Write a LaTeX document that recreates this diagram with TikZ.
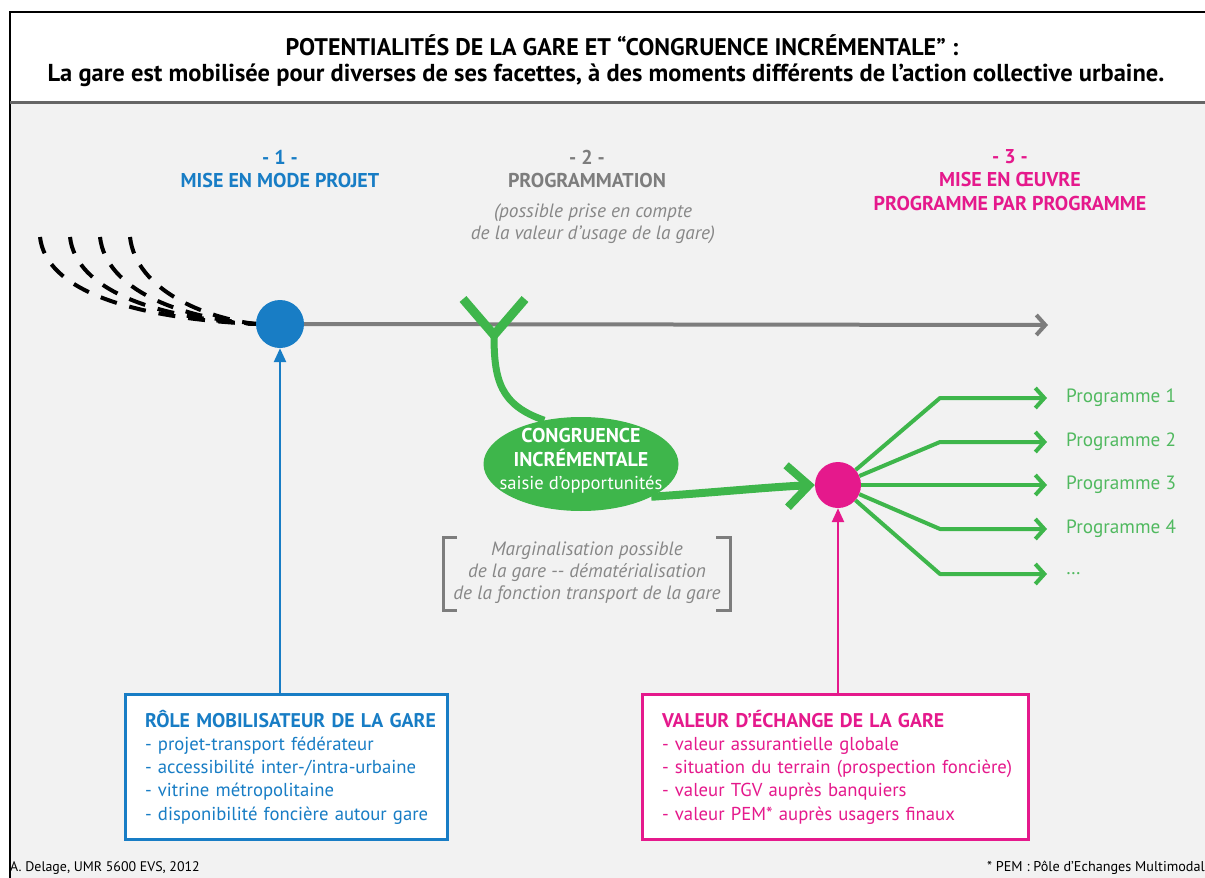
\documentclass[tikz,border=0pt]{standalone}
\usepackage{fontspec}
\setmainfont{PT Sans}
\usetikzlibrary{arrows.meta,positioning,shapes.geometric}
\definecolor{mblue}{RGB}{24,125,197}
\definecolor{mpink}{RGB}{229,25,140}
\definecolor{mgreen}{RGB}{62,182,75}
\definecolor{lgreen}{RGB}{80,185,95}
\definecolor{mgrey}{RGB}{125,125,125}
\definecolor{tgrey}{RGB}{135,135,135}
\definecolor{bg}{RGB}{242,242,242}
\newcommand{\headfont}{\fontsize{19.8}{23.3}\selectfont\bfseries}
\tikzset{>=Stealth,every node/.style={inner sep=0pt},
stagelbl/.style={font=\fontsize{20}{23.5}\selectfont\bfseries,align=center},
note/.style={font=\fontsize{19.3}{21.8}\selectfont\itshape,text=tgrey,align=center},
infobox/.style={draw=#1,line width=3pt,fill=white,text=#1,minimum height=145pt,inner xsep=20pt,align=left,font=\fontsize{18.7}{23.3}\selectfont},
up/.style={line width=2.5pt,draw=#1,-{Triangle[length=14pt 0,width=12pt 0]}},
prog/.style={mgreen,line width=4pt,line join=round,-{Straight Barb[length=9pt 0,width=20pt 0]}},
progtxt/.style={anchor=west,text=lgreen,font=\fontsize{19.2}{21}\selectfont}}
\begin{document}
\begin{tikzpicture}[x=1pt,y=-1pt]
\useasboundingbox (0,0) rectangle (1205,878);
\fill[white] (0,0) rectangle (1205,878);\fill[bg] (10,102) rectangle (1205,878);
\draw[line width=2pt] (1205,12)--(10,12)--(10,878);\draw[line width=3pt,black!60] (10,102)--(1205,102);
\node[font=\fontsize{24}{26}\selectfont\bfseries] (title1) at (622,45) {POTENTIALITÉS DE LA GARE ET “CONGRUENCE INCRÉMENTALE” :};
\node[font=\fontsize{24.5}{26}\selectfont\bfseries] (title2) at (606,75) {La gare est mobilisée pour diverses de ses facettes, à des moments différents de l’action collective urbaine.};
\node[stagelbl,text=mblue] (s1) at (280,169) {- 1 -\\MISE EN MODE PROJET};
\node[stagelbl,text=mgrey] (s2) at (587,169) {- 2 -\\PROGRAMMATION};
\node[note] (s2n) at (593,224) {(possible prise en compte\\de la valeur d’usage de la gare)};
\node[stagelbl,text=mpink] (s3) at (1010,180) {- 3 -\\MISE EN ŒUVRE\\PROGRAMME PAR PROGRAMME};
\node[circle,fill=mblue,minimum size=48pt] (p1) at (280,324) {};
\node[circle,fill=mpink,minimum size=46pt] (p2) at (838,485) {};
\coordinate (end) at (1048,325);
\draw[mgrey,line width=4pt,-{Straight Barb[length=9pt 0,width=20pt 0]}] (p1.east)--(end);
\foreach \i in {0,...,3}
  \draw[line width=4pt,dash pattern=on 17pt off 13pt] (40+30*\i,237) .. controls (46+30*\i,290) and (130+25*\i,318) .. (p1.west);
\coordinate (fork) at (494,335);
\draw[mgreen,line width=9pt] (463,299)--(fork)--(525,299);
\node[ellipse,fill=mgreen,minimum width=195pt,minimum height=94pt] (cong) at (581,464) {};
\node[text=white,align=center,font=\fontsize{18.6}{23.5}\selectfont] (congtxt) at (581,461) {\textbf{\fontsize{20}{23}\selectfont CONGRUENCE}\\\textbf{\fontsize{20}{23}\selectfont INCRÉMENTALE}\\saisie d’opportunités};
\draw[mgreen,line width=7pt] (fork) .. controls (494,380) and (500,405) .. (cong.130);
\draw[mgreen,line width=8pt,-{Straight Barb[length=22pt 0,width=42pt 0]}] (cong.-25) .. controls (720,492) and (770,487) .. (p2.west);
\foreach \y/\t [count=\n] in {398/Programme 1,442/Programme 2,485/Programme 3,529/Programme 4,574/{\dots}}{
  \node[progtxt] (pr\n) at (1066,\y) {\t};
  \draw[prog,shorten >=19pt] (p2)--(940,\y)--(pr\n.west);}
\node[note] (marg) at (587,573) {Marginalisation possible\\de la gare -{}- dématérialisation\\de la fonction transport de la gare};
\draw[mgrey,line width=3pt] (457,537)--(443,537)--(443,610)--(457,610);\draw[mgrey,line width=3pt] (716,537)--(730,537)--(730,610)--(716,610);
\node[infobox=mblue,text width=282pt] (rb) at (286,767) {\mbox{\headfont RÔLE MOBILISATEUR DE LA GARE}\\\mbox{- projet-transport fédérateur}\\\mbox{- accessibilité inter-/intra-urbaine}\\\mbox{- vitrine métropolitaine}\\\mbox{- disponibilité foncière autour gare}};
\node[infobox=mpink,text width=346pt] (vb) at (835,767) {\mbox{\headfont VALEUR D’ÉCHANGE DE LA GARE}\\\mbox{- valeur assurantielle globale}\\\mbox{- situation du terrain (prospection foncière)}\\\mbox{- valeur TGV auprès banquiers}\\\mbox{- valeur PEM* auprès usagers finaux}};
\draw[up=mblue] (rb.north -| p1)--(p1.south);
\draw[up=mpink] (vb.north -| p2)--(p2.south);
\node[anchor=west,font=\fontsize{13.9}{16}\selectfont] (auth) at (10,868) {A. Delage, UMR 5600 EVS, 2012};
\node[anchor=east,font=\fontsize{14.2}{16}\selectfont] (pem) at (1205,868) {* PEM : Pôle d’Echanges Multimodal};
\end{tikzpicture}
\end{document}
